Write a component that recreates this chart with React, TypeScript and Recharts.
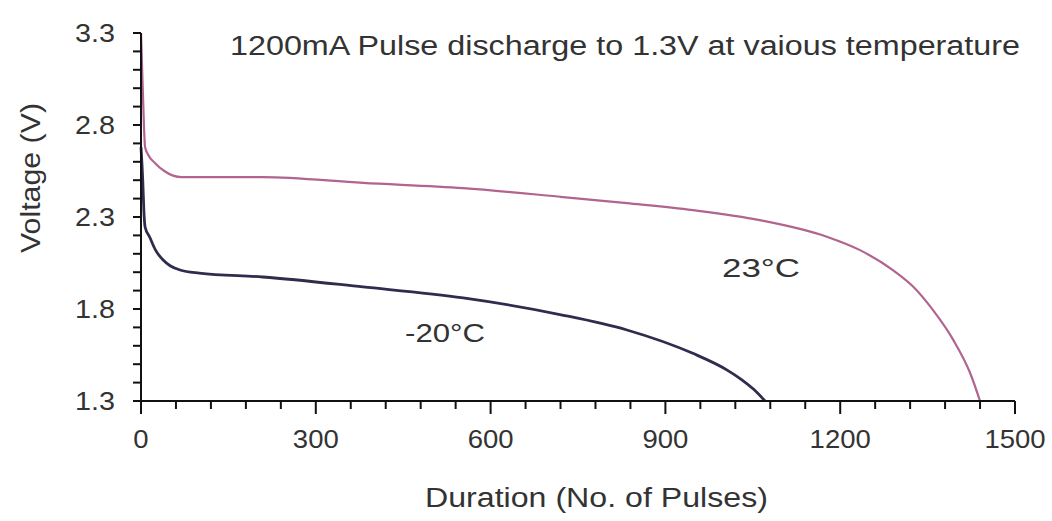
import { LineChart, Line, XAxis, YAxis, Customized } from 'recharts';

// 23°C curve
const pulses23 = [0, 3, 7, 12, 25, 40, 55, 70, 209, 381, 553, 719, 834, 947, 1062, 1177, 1234, 1291, 1325, 1359, 1394, 1423, 1440];
const volts23 = [3.3, 3.0, 2.68, 2.64, 2.59, 2.55, 2.525, 2.517, 2.517, 2.485, 2.457, 2.41, 2.375, 2.337, 2.283, 2.193, 2.12, 2.01, 1.922, 1.795, 1.632, 1.452, 1.3];

// -20°C curve
const pulsesM20 = [0, 3, 5, 7, 15, 25, 38, 50, 67, 100, 209, 381, 553, 719, 834, 947, 1006, 1030, 1052, 1071];
const voltsM20 = [2.68, 2.5, 2.33, 2.246, 2.19, 2.12, 2.066, 2.035, 2.012, 1.995, 1.974, 1.92, 1.86, 1.77, 1.686, 1.559, 1.468, 1.418, 1.362, 1.3];

const xTicks = [0, 60, 120, 180, 240, 300, 360, 420, 480, 540, 600, 660, 720, 780, 840, 900, 960, 1020, 1080, 1140, 1200, 1260, 1320, 1380, 1440, 1500];
const xLabels = [0, 300, 600, 900, 1200, 1500];
const yTicks = [1.3, 1.4, 1.5, 1.6, 1.7, 1.8, 1.9, 2.0, 2.1, 2.2, 2.3, 2.4, 2.5, 2.6, 2.7, 2.8, 2.9, 3.0, 3.1, 3.2, 3.3];
const yLabels = ['1.3', '1.8', '2.3', '2.8', '3.3'];

const series23 = pulses23.map((p, i) => ({ p, v: volts23[i] }));
const seriesM20 = pulsesM20.map((p, i) => ({ p, v: voltsM20[i] }));

const FONT = '"Liberation Sans", Arial, sans-serif';
const TEXT = '#333';

function XTick({ x, y, payload }: any) {
  const major = xLabels.includes(payload.value);
  const s = String(payload.value);
  return (
    <g>
      <line x1={x} x2={x} y1={y} y2={y + (major ? 13 : 8)} stroke="#111" strokeWidth={2} />
      {major && (
        <text
          x={x}
          y={y + 47}
          textAnchor="middle"
          fontSize={25}
          fill={TEXT}
          fontFamily={FONT}
          textLength={s.length * 15.3}
          lengthAdjust="spacingAndGlyphs"
        >
          {s}
        </text>
      )}
    </g>
  );
}

function YTick({ x, y, payload }: any) {
  const label = yLabels.find((l) => Math.abs(Number(l) - payload.value) < 1e-6);
  return (
    <g>
      <line x1={x} x2={x - 8} y1={y} y2={y} stroke="#111" strokeWidth={2} />
      {label && (
        <text
          x={x - 26}
          y={y + 9}
          textAnchor="end"
          fontSize={25}
          fill={TEXT}
          fontFamily={FONT}
          textLength={40}
          lengthAdjust="spacingAndGlyphs"
        >
          {label}
        </text>
      )}
    </g>
  );
}

function Texts() {
  return (
    <g fontFamily={FONT} fill={TEXT}>
      <text x={230} y={55} fontSize={27} textLength={790} lengthAdjust="spacingAndGlyphs">
        1200mA Pulse discharge to 1.3V at vaious temperature
      </text>
      <text x={425} y={507} fontSize={27} textLength={343} lengthAdjust="spacingAndGlyphs">
        Duration (No. of Pulses)
      </text>
      <text
        x={40}
        y={178}
        textAnchor="middle"
        fontSize={27}
        textLength={150}
        lengthAdjust="spacingAndGlyphs"
        transform="rotate(-90 40 178)"
      >
        Voltage (V)
      </text>
      <text x={722} y={277} fontSize={25} textLength={78} lengthAdjust="spacingAndGlyphs">
        23°C
      </text>
      <text x={405} y={342} fontSize={25} textLength={80} lengthAdjust="spacingAndGlyphs">
        -20°C
      </text>
    </g>
  );
}

export default function App() {
  return (
    <div style={{ position: 'absolute', left: 0, top: 0, background: '#fff' }}>
      <LineChart width={1052} height={521} margin={{ top: 33, right: 37, left: 0, bottom: 0 }}>
        <XAxis
          type="number"
          dataKey="p"
          domain={[0, 1500]}
          ticks={xTicks}
          interval={0}
          height={120}
          tickSize={0}
          tickMargin={0}
          tickLine={false}
          tick={<XTick />}
          axisLine={{ stroke: '#111', strokeWidth: 2 }}
          allowDuplicatedCategory={false}
        />
        <YAxis
          type="number"
          dataKey="v"
          domain={[1.3, 3.3]}
          ticks={yTicks}
          interval={0}
          width={141}
          tickSize={0}
          tickMargin={0}
          tickLine={false}
          tick={<YTick />}
          axisLine={{ stroke: '#111', strokeWidth: 2 }}
        />
        <Line
          data={series23}
          dataKey="v"
          type="monotone"
          stroke="#b0648f"
          strokeWidth={2.2}
          dot={false}
          isAnimationActive={false}
        />
        <Line
          data={seriesM20}
          dataKey="v"
          type="monotone"
          stroke="#2e2d4d"
          strokeWidth={2.8}
          dot={false}
          isAnimationActive={false}
        />
        <Customized component={Texts} />
      </LineChart>
    </div>
  );
}
